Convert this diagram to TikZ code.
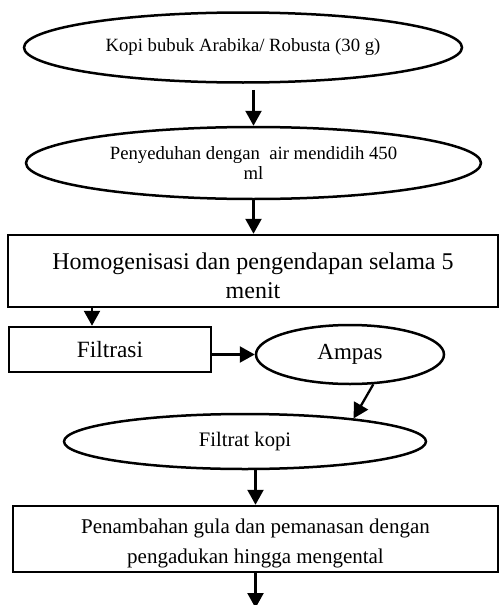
\documentclass[tikz,border=0pt]{standalone}
\usepackage{fontspec}
\setmainfont{Liberation Serif}
\usetikzlibrary{shapes.geometric,arrows.meta}
\tikzset{
  ell/.style={ellipse,draw,line width=2.5pt,inner sep=0pt,align=center},
  boxn/.style={rectangle,draw,line width=2.5pt,inner sep=0pt,align=center},
  arr/.style={line width=2.3pt,-{Triangle[length=15pt,width=16pt]}}
}
\begin{document}
\begin{tikzpicture}[x=1pt,y=-1pt]
\useasboundingbox (0,0) rectangle (500,605);
\node[ell,minimum width=438pt,minimum height=70pt,font=\fontsize{18.7}{20}\selectfont] (e1) at (243,47.5) {Kopi bubuk Arabika/ Robusta (30 g)};
\node[ell,minimum width=455pt,minimum height=72pt,font=\fontsize{18.7}{20}\selectfont] (e2) at (253.5,163) {Penyeduhan dengan\ \ air mendidih 450\\ml};
\node[boxn,minimum width=490pt,minimum height=72pt,font=\fontsize{24}{29}\selectfont] (r1) at (253,271) {\rule{0pt}{26pt}Homogenisasi dan pengendapan selama 5\\menit};
\node[boxn,minimum width=202pt,minimum height=45pt,font=\fontsize{23.3}{28}\selectfont] (f) at (110,349.5) {Filtrasi};
\node[ell,minimum width=188pt,minimum height=59pt,font=\fontsize{23}{28}\selectfont] (am) at (350,354.5) {Ampas};
\node[ell,minimum width=362pt,minimum height=55pt,font=\fontsize{20.6}{24}\selectfont] (fk) at (245,441.5) {Filtrat kopi};
\node[boxn,minimum width=485pt,minimum height=66pt,font=\fontsize{21}{30}\selectfont] (r2) at (255.5,539) {\rule{0pt}{24pt}Penambahan gula dan pemanasan dengan\\pengadukan hingga mengental};
\draw[arr] ([yshift=-6pt]e1.south -| e2.north) -- (e2.north);
\draw[arr] (e2.south) -- (e2.south |- r1.north);
\draw[arr] ([xshift=-18pt]f.north |- r1.south) -- ([xshift=-18pt]f.north);
\draw[arr] (f.east |- am.west) -- (am.west);
\draw[arr] (am.-52) -- (fk.12);
\draw[arr] (fk.south -| r2.north) -- (r2.north);
\coordinate (endpt) at (255.5,608);
\draw[arr] (r2.south) -- (endpt);
\end{tikzpicture}
\end{document}
